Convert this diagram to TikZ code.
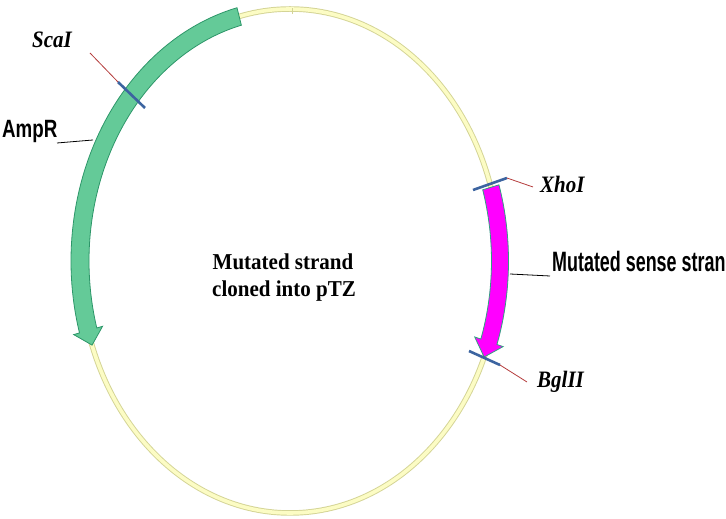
\documentclass[tikz,border=0pt]{standalone}
\usepackage{fontspec}
\setmainfont{Liberation Serif}
\newfontfamily\arialfont{Liberation Sans}
\definecolor{ringfill}{RGB}{252,252,196}
\definecolor{ringedge}{RGB}{212,212,150}
\definecolor{ampfill}{RGB}{100,202,152}
\definecolor{ampedge}{RGB}{45,150,105}
\definecolor{pinkfill}{RGB}{255,0,255}
\definecolor{pinkedge}{RGB}{50,160,130}
\definecolor{siteblue}{RGB}{60,100,160}
\definecolor{sitered}{RGB}{180,60,60}
\begin{document}
\begin{tikzpicture}[x=1pt,y=1pt,
  enz/.style={inner sep=0pt, anchor=base west, font=\fontsize{21}{21}\selectfont\bfseries\itshape},
  sanslabel/.style={inner sep=0pt, anchor=base west},
  centertext/.style={inner sep=0pt, anchor=base, font=\fontsize{21}{21}\selectfont\bfseries},
  sitecut/.style={siteblue, line width=2.6pt},
  siteleader/.style={sitered, line width=0.8pt},
  leader/.style={black, line width=0.8pt},
  gene/.style={line width=0.8pt, line join=miter}]
\useasboundingbox (0,0) rectangle (726,519);
\clip (0,0) rectangle (726,519);

% plasmid ring
\draw[ringedge, line width=5.5pt] (290,258) ellipse [x radius=210, y radius=252];
\draw[ringfill, line width=3.6pt] (290,258) ellipse [x radius=210, y radius=252];
\draw[ringedge, line width=0.4pt] (292,505) -- (292,511);

% AmpR arrow
\draw[gene, draw=ampedge, fill=ampfill]
  ({290+219*cos(104)},{258+261*sin(104)})
  arc[start angle=104, end angle=196, x radius=219, y radius=261]
  -- ({290+225*cos(196)},{258+267*sin(196)})
  -- ({290+210*cos(199.5)},{258+252*sin(199.5)})
  -- ({290+195*cos(196)},{258+237*sin(196)})
  -- ({290+201*cos(196)},{258+243*sin(196)})
  arc[start angle=196, end angle=104, x radius=201, y radius=243]
  -- cycle;

% mutated sense strand arrow
\draw[gene, draw=pinkedge, fill=pinkfill]
  ({290+218.5*cos(17)},{258+260.5*sin(17)})
  arc[start angle=17, end angle=-18.7, x radius=218.5, y radius=260.5]
  -- ({290+225*cos(-18.7)},{258+267*sin(-18.7)})
  -- ({290+210*cos(-22.4)},{258+252*sin(-22.4)})
  -- ({290+195*cos(-18.7)},{258+237*sin(-18.7)})
  -- ({290+201.5*cos(-18.7)},{258+243.5*sin(-18.7)})
  arc[start angle=-18.7, end angle=17, x radius=201.5, y radius=243.5]
  -- cycle;

% restriction sites
\coordinate (scaiA) at (90,466);
\coordinate (scaiB) at (118,437);
\coordinate (scaiC) at (145,411);
\coordinate (xhoiA) at (473,329);
\coordinate (xhoiB) at (507,341);
\coordinate (xhoiC) at (533,332);
\coordinate (bgliiA) at (469,168);
\coordinate (bgliiB) at (500,154);
\coordinate (bgliiC) at (527,137);
\draw[siteleader] (scaiA) -- (scaiB);
\draw[sitecut] (scaiB) -- (scaiC);
\draw[sitecut] (xhoiA) -- (xhoiB);
\draw[siteleader] (xhoiB) -- (xhoiC);
\draw[sitecut] (bgliiA) -- (bgliiB);
\draw[siteleader] (bgliiB) -- (bgliiC);

\node[enz] (scai) at (32,471) {\scalebox{1}[1.12]{ScaI}};
\node[enz] (xhoi) at (540,326) {\scalebox{1}[1.12]{XhoI}};
\node[enz] (bglii) at (537,131) {\scalebox{1}[1.12]{BglII}};

% gene labels
\node[sanslabel] (ampr) at (2,381) {\arialfont\bfseries\fontsize{25}{25}\selectfont\scalebox{0.75}[1]{AmpR}};
\node[sanslabel] (sense) at (552,247) {\arialfont\bfseries\fontsize{28}{28}\selectfont\scalebox{0.64}[1]{Mutated sense strand}};
\coordinate (amprP) at (93,379);
\coordinate (senseP) at (510,245);
\draw[leader] (57,376) -- (amprP);
\draw[leader] (senseP) -- (550,243);

% centre text
\node[centertext] (title1) at (283,249) {\scalebox{1}[1.08]{Mutated strand}};
\node[centertext] (title2) at (284,222) {\scalebox{1}[1.08]{cloned into pTZ}};
\end{tikzpicture}
\end{document}
